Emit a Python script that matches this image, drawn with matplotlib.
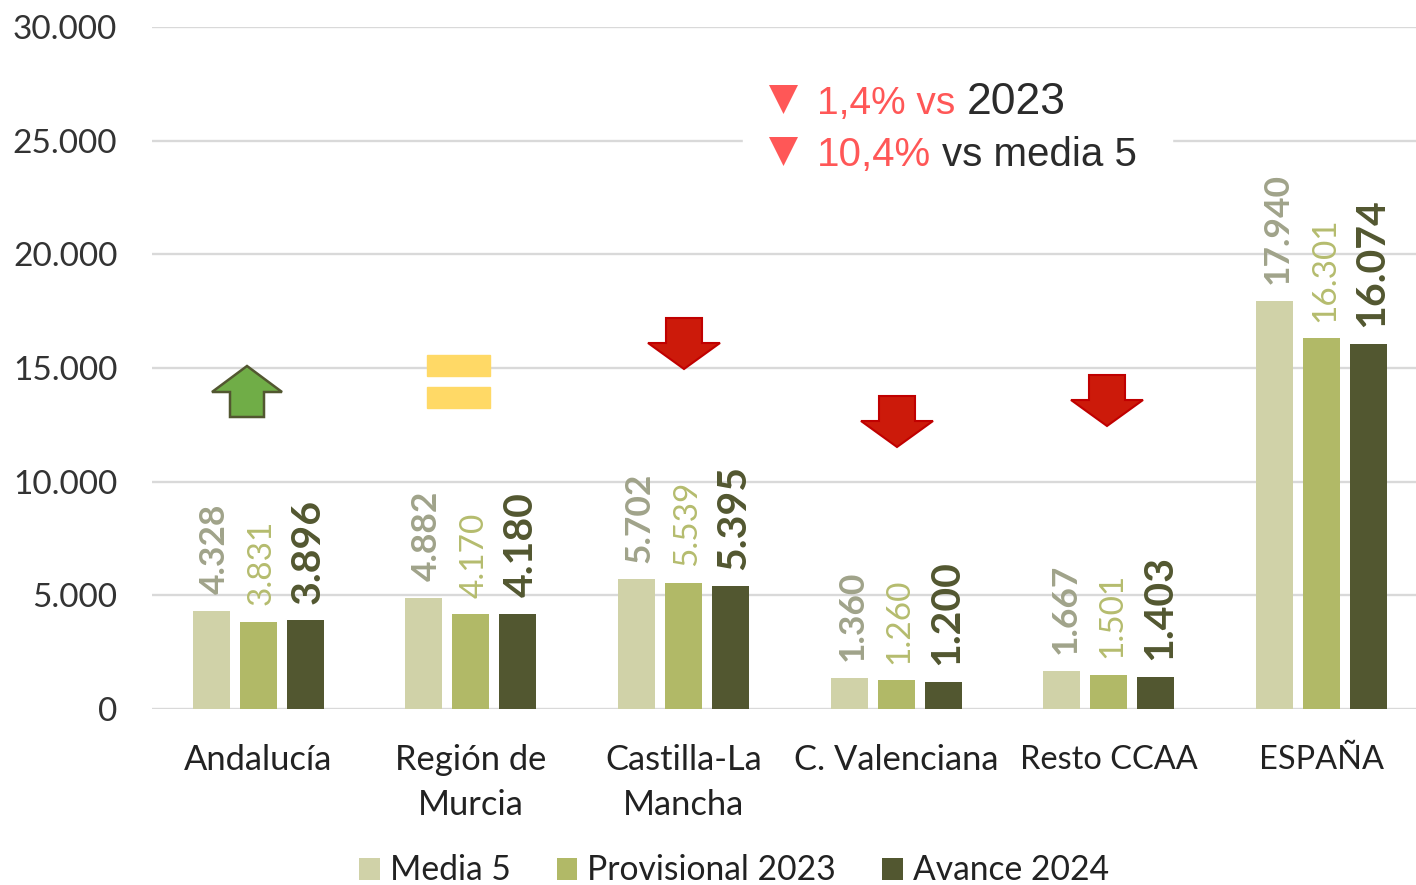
import matplotlib
matplotlib.use("Agg")
import matplotlib.pyplot as plt
import numpy as np
from matplotlib.patches import Polygon, Rectangle
from matplotlib.transforms import Affine2D

categories = ["Andalucía", "Región de\nMurcia", "Castilla-La\nMancha", "C. Valenciana", "Resto CCAA", "ESPAÑA"]
media5 = [4328, 4882, 5702, 1360, 1667, 17940]
prov2023 = [3831, 4170, 5539, 1260, 1501, 16301]
avance2024 = [3896, 4180, 5395, 1200, 1403, 16074]
series_names = ["Media 5", "Provisional 2023", "Avance 2024"]
yticks = [0, 5000, 10000, 15000, 20000, 25000, 30000]

W, H = 1416, 885
plt.rcParams["font.family"] = ["Lato", "DejaVu Sans"]
fig = plt.figure(figsize=(W / 100, H / 100), dpi=100)
ax = fig.add_axes([152 / W, 1 - 709 / H, (W - 152) / W, (709 - 27) / H])
step = 212.7
ax.set_xlim(-106 / step, (W - 258) / step)
ax.set_ylim(0, 30000)

fmt = lambda v: f"{v:,}".replace(",", ".")
colors = ["#D0D2A8", "#B1B967", "#525730"]
lab_colors = ["#A0A38A", "#B5BC6E", "#525730"]
weights = ["bold", "normal", "bold"]
sizes = [25.5, 24, 29.5]
x = np.arange(len(categories))
bw, off = 37 / step, 47 / step
for i, vals in enumerate([media5, prov2023, avance2024]):
    ax.bar(x + (i - 1) * off, vals, bw, color=colors[i], label=series_names[i], zorder=3)
    for xi, v in zip(x, vals):
        ax.annotate(fmt(v), (xi + (i - 1) * off, v), xytext=(2.5, 12), textcoords="offset points",
                    rotation=90, ha="center", va="bottom", color=lab_colors[i],
                    fontsize=sizes[i], fontweight=weights[i], zorder=4)

ax.set_yticks(yticks)
ax.set_yticklabels([fmt(v) for v in yticks], fontsize=24, color="#333333")
ax.set_xticks(x)
ax.set_xticklabels(categories, fontsize=24.8, color="#222222", linespacing=1.5)
ax.tick_params(axis="both", length=0)
ax.tick_params(axis="y", pad=25)
ax.tick_params(axis="x", pad=25)
for tl in ax.get_xticklabels()[4:]:
    tl.set_fontsize(23.4)
    tl.set_transform(tl.get_transform() + Affine2D().translate(0, -1.5))
ax.grid(axis="y", color="#D9D9D9", lw=1.7, zorder=1)
ax.set_axisbelow(True)
for s in ax.spines.values():
    s.set_visible(False)

# annotation overlays placed in reference pixel coordinates
px = Affine2D().scale(1, -1).translate(0, H)
def poly(points, **kw):
    fig.add_artist(Polygon(points, closed=True, transform=px, zorder=6, **kw))

fig.add_artist(Rectangle((743, 70), 429, 110, transform=px, color="white", zorder=5))

def up(cx, top, fc, ec):
    poly([(cx, top), (cx + 35, top + 26), (cx + 17, top + 26), (cx + 17, top + 51),
          (cx - 17, top + 51), (cx - 17, top + 26), (cx - 35, top + 26)], fc=fc, ec=ec, lw=1.8)
def down(cx, bottom):
    poly([(cx, bottom), (cx + 36, bottom - 26), (cx + 18, bottom - 26), (cx + 18, bottom - 51),
          (cx - 18, bottom - 51), (cx - 18, bottom - 26), (cx - 36, bottom - 26)],
         fc="#CC1A0A", ec="#C00000", lw=1.5)

up(247, 366, "#70AD47", "#525730")
for yy in (355, 387):
    fig.add_artist(Rectangle((427, yy), 63, 21, transform=px, color="#FFD966", zorder=6))
down(684, 369)
down(897, 447)
down(1107, 426)

for top in (85, 137):
    poly([(769, top), (798, top), (783.5, top + 29)], fc="#FF5757", ec="none")

def label(xp, yp, s, c, size=29):
    fig.text(xp / W, 1 - yp / H, s, color=c, fontsize=size, family="Liberation Sans",
             va="baseline", ha="left", zorder=7)
label(817, 114, "1,4% vs", "#FF5757", 28)
label(967, 114, "2023", "#2B2B2B", 32)
label(817, 166, "10,4%", "#FF5757")
label(942, 166, "vs media 5", "#2B2B2B")

leg = fig.legend(loc="center", bbox_to_anchor=(734 / W, 1 - 870.5 / H), ncol=3, frameon=False,
                 fontsize=24.2, handlelength=0.62, handleheight=0.62, handletextpad=0.3,
                 columnspacing=1.36, labelcolor="#222222", borderpad=0, borderaxespad=0)

fig.savefig("out.png", dpi=100)
